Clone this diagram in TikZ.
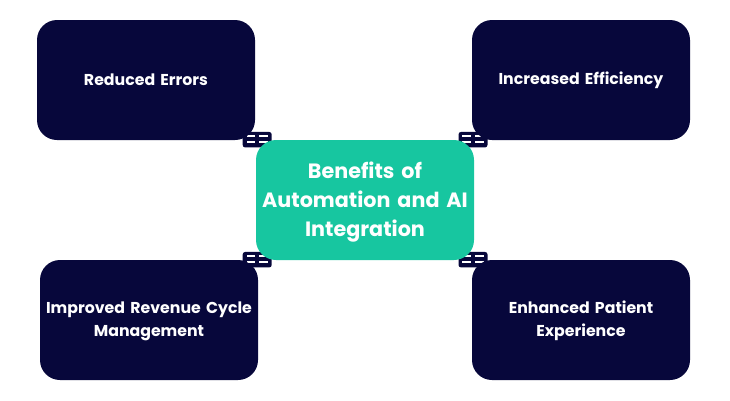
\documentclass[tikz,border=0pt]{standalone}
\usepackage{fontspec}
\setmainfont{Poppins}
\definecolor{navy}{HTML}{07073B}
\definecolor{teal}{HTML}{17C6A0}
\tikzset{
  x=1pt,y=-1pt,
  box/.style={draw=none,fill=navy,rounded corners=20pt,minimum width=218pt,minimum height=120pt,text=white,align=center,font=\fontsize{15.75}{23.5}\selectfont\bfseries,text width=214pt,inner sep=0pt},
  hub/.style={box,fill=teal,font=\fontsize{20.7}{29}\selectfont\bfseries},
  link/.style={fill=navy,rounded corners=2.5pt,minimum width=29pt,minimum height=15.5pt,inner sep=0pt},
  slot/.style={fill=white,minimum width=8.8pt,minimum height=2.2pt,inner sep=0pt},
}
\newcommand{\linkglyph}[3]{%
  \node[link] (#1) at (#2,#3) {};
  \node[slot] (#1a) at (#2-6.3,#3-3.7) {};
  \node[slot] (#1b) at (#2+6.3,#3-3.7) {};
  \node[slot] (#1c) at (#2-6.3,#3+2.6) {};
  \node[slot] (#1d) at (#2+6.3,#3+2.6) {};
}
\begin{document}
\begin{tikzpicture}
\useasboundingbox (0,0) rectangle (730,400);
\linkglyph{lta}{257.2}{139.7}
\linkglyph{ltb}{473}{139.7}
\linkglyph{lba}{257.2}{259.7}
\linkglyph{lbb}{473}{259.7}
\node[box] (tl) at (146,80) {Reduced Errors};
\node[box] (tr) at (581,80) {\rule{0pt}{14pt}Increased Efficiency};
\node[box] (bl) at (149,320) {\rule{0pt}{14pt}Improved Revenue Cycle\\Management};
\node[box] (br) at (581,320) {\rule{0pt}{14pt}Enhanced Patient\\Experience};
\node[hub] (c) at (365,200) {\rule{0pt}{21pt}Benefits of\\Automation and AI\\Integration};
\end{tikzpicture}
\end{document}
